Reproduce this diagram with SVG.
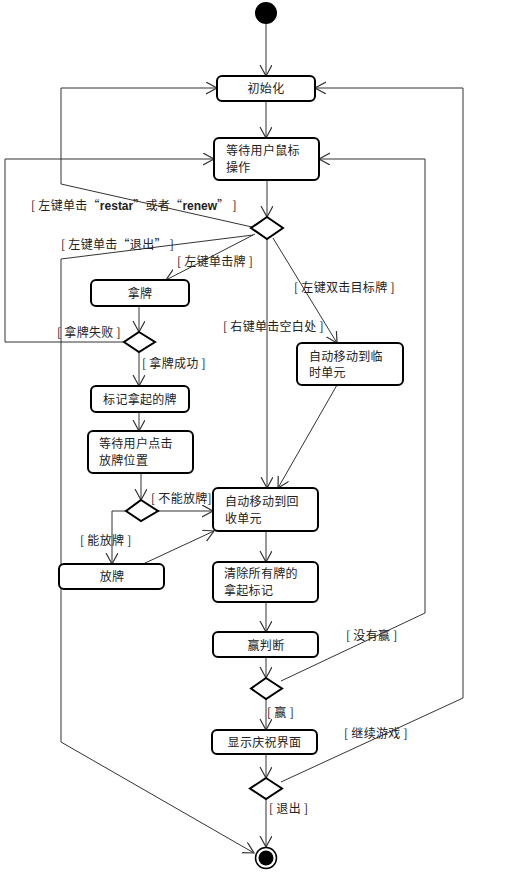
<svg xmlns="http://www.w3.org/2000/svg" width="523" height="874" viewBox="0 0 523 874">
<style>
  .box{fill:#fff;stroke:#000;stroke-width:2}
  .dia{fill:#fff;stroke:#000;stroke-width:2}
  .t{font-family:"Noto Sans CJK SC","Liberation Sans",sans-serif;font-size:12px;fill:#222;letter-spacing:0.3px}
  .lat{font-family:"Liberation Sans","Noto Sans CJK SC",sans-serif;font-weight:bold;letter-spacing:0}
  .c{text-anchor:middle}
  .ln{fill:none;stroke:#333;stroke-width:1;marker-end:url(#arr)}
</style>
<defs>
  <marker id="arr" markerUnits="userSpaceOnUse" markerWidth="14" markerHeight="14" refX="11" refY="6" orient="auto" viewBox="0 0 14 14">
    <path d="M0,0 L11,6 L0,12" fill="none" stroke="#333" stroke-width="1.2"/>
  </marker>
</defs>
<rect width="523" height="874" fill="#fff"/>

<g id="connectors">
  <path class="ln" d="M266,24 L266,76"/>
  <path class="ln" d="M266,101 L266,138"/>
  <path class="ln" d="M267,180 L267,217"/>
  <path class="ln" d="M252,227 L61,184 L61,88 L217,88"/>
  <path class="ln" d="M253,235 L61,259 L61,742 L254,853"/>
  <path class="ln" d="M255,234 L166,280"/>
  <path class="ln" d="M267,239 L267,488"/>
  <path class="ln" d="M273,238 L337,343"/>
  <path class="ln" d="M139,306 L139,332"/>
  <path class="ln" d="M124,342 L5,342 L5,159 L214,159"/>
  <path class="ln" d="M139,352 L139,386"/>
  <path class="ln" d="M139,412 L139,431"/>
  <path class="ln" d="M141,473 L141,500"/>
  <path class="ln" d="M158,511 L213,511"/>
  <path class="ln" d="M126,511 L112,511 L112,564"/>
  <path class="ln" d="M143,564 L214,531"/>
  <path class="ln" d="M337,385 L278,488"/>
  <path class="ln" d="M266,531 L266,562"/>
  <path class="ln" d="M266,602 L266,632"/>
  <path class="ln" d="M266,657 L266,678"/>
  <path class="ln" d="M281,681 L425,613 L425,159 L319,159"/>
  <path class="ln" d="M266,699 L266,730"/>
  <path class="ln" d="M266,754 L266,778"/>
  <path class="ln" d="M281,782 L463,698 L463,88 L315,88"/>
  <path class="ln" d="M266,799 L266,847"/>

  <text class="t" x="31" y="210">[ 左键单击“<tspan class="lat">restar</tspan>”或者“<tspan class="lat">renew</tspan>” ]</text>
  <text class="t" x="61" y="249">[ 左键单击“退出” ]</text>
  <text class="t" x="177" y="266">[ 左键单击牌 ]</text>
  <text class="t" x="294" y="292">[ 左键双击目标牌 ]</text>
  <text class="t" x="223" y="331">[ 右键单击空白处 ]</text>
  <text class="t" x="57" y="337">[ 拿牌失败 ]</text>
  <text class="t" x="142" y="368">[ 拿牌成功 ]</text>
  <text class="t" x="151" y="503">[ 不能放牌]</text>
  <text class="t" x="80" y="545">[ 能放牌 ]</text>
  <text class="t" x="346" y="640">[ 没有赢 ]</text>
  <text class="t" x="267" y="717">[ 赢 ]</text>
  <text class="t" x="344" y="738">[ 继续游戏 ]</text>
  <text class="t" x="269" y="813">[ 退出 ]</text>
</g>

<g id="start"><circle cx="266" cy="13" r="11" fill="#000"/></g>

<g id="init"><rect class="box" x="217" y="76" width="98" height="25" rx="5"/><text class="t c" x="266" y="93">初始化</text></g>

<g id="wait"><rect class="box" x="214" y="138" width="105" height="42" rx="5"/>
  <text class="t" x="226" y="155">等待用户鼠标</text><text class="t" x="226" y="172">操作</text></g>

<g id="d1"><path class="dia" d="M267,217 L283,228 L267,239 L251,228 Z"/></g>

<g id="take"><rect class="box" x="91" y="280" width="98" height="26" rx="5"/><text class="t c" x="140" y="298">拿牌</text></g>

<g id="d2"><path class="dia" d="M139,332 L155,342 L139,352 L124,342 Z"/></g>

<g id="mark"><rect class="box" x="91" y="386" width="98" height="26" rx="5"/><text class="t c" x="140" y="404">标记拿起的牌</text></g>

<g id="waitPlace"><rect class="box" x="88" y="431" width="105" height="42" rx="5"/>
  <text class="t" x="99" y="448">等待用户点击</text><text class="t" x="99" y="465">放牌位置</text></g>

<g id="d3"><path class="dia" d="M141,500 L158,511 L141,521 L126,511 Z"/></g>

<g id="place"><rect class="box" x="59" y="564" width="105" height="25" rx="5"/><text class="t c" x="112" y="581">放牌</text></g>

<g id="temp"><rect class="box" x="297" y="343" width="106" height="42" rx="5"/>
  <text class="t" x="309" y="361">自动移动到临</text><text class="t" x="309" y="377">时单元</text></g>

<g id="recycle"><rect class="box" x="213" y="488" width="105" height="43" rx="5"/>
  <text class="t" x="225" y="506">自动移动到回</text><text class="t" x="225" y="523">收单元</text></g>

<g id="clear"><rect class="box" x="213" y="562" width="105" height="40" rx="5"/>
  <text class="t" x="224" y="578">清除所有牌的</text><text class="t" x="224" y="595">拿起标记</text></g>

<g id="win"><rect class="box" x="213" y="632" width="105" height="25" rx="5"/><text class="t c" x="266" y="650">赢判断</text></g>

<g id="d4"><path class="dia" d="M266,678 L282,688.5 L266,699 L251,688.5 Z"/></g>

<g id="celebrate"><rect class="box" x="212" y="730" width="105" height="24" rx="5"/><text class="t c" x="264.5" y="747">显示庆祝界面</text></g>

<g id="d5"><path class="dia" d="M266,778 L282,788.5 L266,799 L250,788.5 Z"/></g>

<g id="end"><circle cx="266" cy="858" r="10.5" fill="#fff" stroke="#000" stroke-width="1.5"/><circle cx="266" cy="858" r="7.5" fill="#000"/></g>
</svg>
